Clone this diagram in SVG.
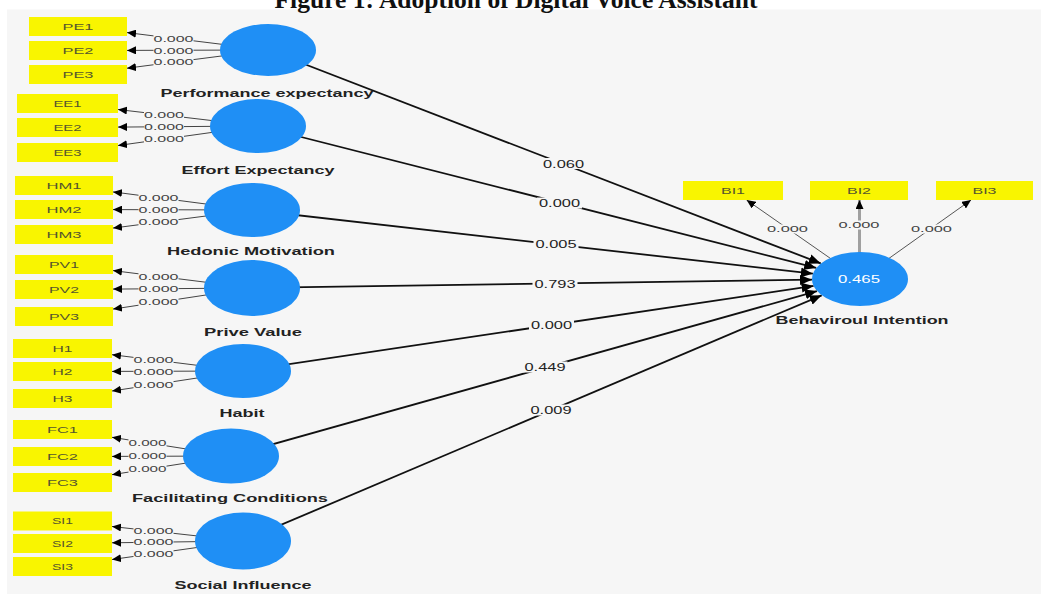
<svg xmlns="http://www.w3.org/2000/svg" width="1041" height="594" viewBox="0 0 1041 594">
<style>
.bg{fill:#f6f6f6}
.lv{fill:#1f8ff5}
.box{fill:#f9f500}
.bt{font-family:"Liberation Sans",Arial,sans-serif;font-size:9.5px;fill:#55552e;text-anchor:middle}
.cl{font-family:"Liberation Sans",Arial,sans-serif;font-size:11px;font-weight:bold;fill:#222;text-anchor:middle}
.ind{stroke:#444;stroke-width:1;fill:none;marker-end:url(#sa)}
.pth{stroke:#111;stroke-width:1.8;fill:none;marker-end:url(#la)}
.bil{stroke:#555;stroke-width:1;fill:none;marker-end:url(#sa)}
.bil2{stroke:#a0a0a0;stroke-width:3;fill:none;marker-end:url(#sa)}
.lb{fill:#f6f6f6}
.it{font-family:"Liberation Sans",Arial,sans-serif;font-size:9px;fill:#444;text-anchor:middle}
.pt{font-family:"Liberation Sans",Arial,sans-serif;font-size:10px;fill:#222;text-anchor:middle}
.r2{font-family:"Liberation Sans",Arial,sans-serif;font-size:10px;fill:#fff;text-anchor:middle}
.title{font-family:"Liberation Serif","Times New Roman",serif;font-size:25px;font-weight:bold;fill:#111;text-anchor:middle}
</style>
<defs>
<marker id="sa" markerUnits="userSpaceOnUse" markerWidth="10" markerHeight="8" refX="9" refY="4" orient="auto"><path d="M0,0 L9,4 L0,8 z" fill="#000"/></marker>
<marker id="la" markerUnits="userSpaceOnUse" markerWidth="13" markerHeight="10" refX="12" refY="5" orient="auto"><path d="M0,0 L12,5 L0,10 z" fill="#000"/></marker>
</defs>
<rect x="0" y="0" width="1041" height="594" fill="#fff"/>
<rect class="bg" x="7" y="9.5" width="1034" height="584.5"/>
<text class="title" x="516" y="8" textLength="483" lengthAdjust="spacingAndGlyphs">Figure 1: Adoption of Digital Voice Assistant</text>

<g id="connectors">
<!-- structural paths -->
<line class="pth" x1="268" y1="50" x2="820.8" y2="263.4"/>
<line class="pth" x1="258" y1="126" x2="816.2" y2="267.9"/>
<line class="pth" x1="252" y1="210" x2="812.9" y2="273.7"/>
<line class="pth" x1="252" y1="288" x2="812" y2="279.7"/>
<line class="pth" x1="243" y1="371" x2="813.6" y2="285.9"/>
<line class="pth" x1="231" y1="456" x2="817" y2="291.1"/>
<line class="pth" x1="243" y1="541" x2="821.7" y2="295.3"/>
<!-- outer loadings -->
<line class="ind" x1="268" y1="50" x2="127" y2="32.6"/>
<line class="ind" x1="268" y1="50" x2="127" y2="50.4"/>
<line class="ind" x1="268" y1="50" x2="127" y2="68.2"/>
<line class="ind" x1="258" y1="126" x2="118" y2="109.5"/>
<line class="ind" x1="258" y1="126" x2="118" y2="127.1"/>
<line class="ind" x1="258" y1="126" x2="118" y2="145.5"/>
<line class="ind" x1="252" y1="210" x2="113" y2="191.9"/>
<line class="ind" x1="252" y1="210" x2="113" y2="209.6"/>
<line class="ind" x1="252" y1="210" x2="113" y2="228.1"/>
<line class="ind" x1="252" y1="288" x2="113" y2="270.6"/>
<line class="ind" x1="252" y1="288" x2="113" y2="289.1"/>
<line class="ind" x1="252" y1="288" x2="113" y2="309.1"/>
<line class="ind" x1="243" y1="371" x2="112" y2="354.7"/>
<line class="ind" x1="243" y1="371" x2="112" y2="371.4"/>
<line class="ind" x1="243" y1="371" x2="112" y2="391"/>
<line class="ind" x1="231" y1="456" x2="112" y2="437.3"/>
<line class="ind" x1="231" y1="456" x2="112" y2="456.4"/>
<line class="ind" x1="231" y1="456" x2="112" y2="474.7"/>
<line class="ind" x1="243" y1="541" x2="112" y2="526.5"/>
<line class="ind" x1="243" y1="541" x2="112" y2="542.8"/>
<line class="ind" x1="243" y1="541" x2="112" y2="559.5"/>
<line class="bil" x1="860" y1="279" x2="746.6" y2="200"/>
<line class="bil2" x1="859.5" y1="279" x2="859.5" y2="200"/>
<line class="bil" x1="860" y1="279" x2="971" y2="200"/>

<!-- path coefficient labels -->
<rect class="lb" x="541" y="158" width="45" height="11"/><text class="pt" x="563.5" y="167.5" textLength="41" lengthAdjust="spacingAndGlyphs">0.060</text>
<rect class="lb" x="537" y="197.5" width="45" height="11"/><text class="pt" x="559.5" y="207" textLength="41" lengthAdjust="spacingAndGlyphs">0.000</text>
<rect class="lb" x="533.5" y="238.5" width="45" height="11"/><text class="pt" x="556" y="248" textLength="41" lengthAdjust="spacingAndGlyphs">0.005</text>
<rect class="lb" x="532.5" y="278.5" width="45" height="11"/><text class="pt" x="555" y="288" textLength="41" lengthAdjust="spacingAndGlyphs">0.793</text>
<rect class="lb" x="529" y="319" width="45" height="11"/><text class="pt" x="551.5" y="328.5" textLength="41" lengthAdjust="spacingAndGlyphs">0.000</text>
<rect class="lb" x="522.5" y="361.5" width="45" height="11"/><text class="pt" x="545" y="371" textLength="41" lengthAdjust="spacingAndGlyphs">0.449</text>
<rect class="lb" x="528.5" y="404.5" width="45" height="11"/><text class="pt" x="551" y="414" textLength="41" lengthAdjust="spacingAndGlyphs">0.009</text>

<!-- loading labels -->
<rect class="lb" x="153.5" y="33.8" width="40" height="9"/><text class="it" x="173.5" y="41.5" textLength="40" lengthAdjust="spacingAndGlyphs">0.000</text>
<rect class="lb" x="153.5" y="45.8" width="40" height="9"/><text class="it" x="173.5" y="53.5" textLength="40" lengthAdjust="spacingAndGlyphs">0.000</text>
<rect class="lb" x="153.5" y="57.7" width="40" height="9"/><text class="it" x="173.5" y="65.4" textLength="40" lengthAdjust="spacingAndGlyphs">0.000</text>

<rect class="lb" x="144" y="110.4" width="40" height="9"/><text class="it" x="164" y="118.1" textLength="40" lengthAdjust="spacingAndGlyphs">0.000</text>
<rect class="lb" x="144" y="122.2" width="40" height="9"/><text class="it" x="164" y="129.9" textLength="40" lengthAdjust="spacingAndGlyphs">0.000</text>
<rect class="lb" x="144" y="134.6" width="40" height="9"/><text class="it" x="164" y="142.3" textLength="40" lengthAdjust="spacingAndGlyphs">0.000</text>

<rect class="lb" x="138.5" y="193.3" width="40" height="9"/><text class="it" x="158.5" y="201" textLength="40" lengthAdjust="spacingAndGlyphs">0.000</text>
<rect class="lb" x="138.5" y="205.2" width="40" height="9"/><text class="it" x="158.5" y="212.9" textLength="40" lengthAdjust="spacingAndGlyphs">0.000</text>
<rect class="lb" x="138.5" y="217.7" width="40" height="9"/><text class="it" x="158.5" y="225.4" textLength="40" lengthAdjust="spacingAndGlyphs">0.000</text>

<rect class="lb" x="138.5" y="271.8" width="40" height="9"/><text class="it" x="158.5" y="279.5" textLength="40" lengthAdjust="spacingAndGlyphs">0.000</text>
<rect class="lb" x="138.5" y="284.2" width="40" height="9"/><text class="it" x="158.5" y="291.9" textLength="40" lengthAdjust="spacingAndGlyphs">0.000</text>
<rect class="lb" x="138.5" y="297.7" width="40" height="9"/><text class="it" x="158.5" y="305.4" textLength="40" lengthAdjust="spacingAndGlyphs">0.000</text>

<rect class="lb" x="133.5" y="355.4" width="40" height="9"/><text class="it" x="153.5" y="363.1" textLength="40" lengthAdjust="spacingAndGlyphs">0.000</text>
<rect class="lb" x="133.5" y="366.8" width="40" height="9"/><text class="it" x="153.5" y="374.5" textLength="40" lengthAdjust="spacingAndGlyphs">0.000</text>
<rect class="lb" x="133.5" y="380.2" width="40" height="9"/><text class="it" x="153.5" y="387.9" textLength="40" lengthAdjust="spacingAndGlyphs">0.000</text>

<rect class="lb" x="128.5" y="438.4" width="38" height="9"/><text class="it" x="147.5" y="446.1" textLength="38" lengthAdjust="spacingAndGlyphs">0.000</text>
<rect class="lb" x="128.5" y="451.7" width="38" height="9"/><text class="it" x="147.5" y="459.4" textLength="38" lengthAdjust="spacingAndGlyphs">0.000</text>
<rect class="lb" x="128.5" y="464.6" width="38" height="9"/><text class="it" x="147.5" y="472.3" textLength="38" lengthAdjust="spacingAndGlyphs">0.000</text>

<rect class="lb" x="133.5" y="526.6" width="40" height="9"/><text class="it" x="153.5" y="534.3" textLength="40" lengthAdjust="spacingAndGlyphs">0.000</text>
<rect class="lb" x="133.5" y="537.7" width="40" height="9"/><text class="it" x="153.5" y="545.4" textLength="40" lengthAdjust="spacingAndGlyphs">0.000</text>
<rect class="lb" x="133.5" y="549.1" width="40" height="9"/><text class="it" x="153.5" y="556.8" textLength="40" lengthAdjust="spacingAndGlyphs">0.000</text>

<rect class="lb" x="767" y="224.5" width="41" height="9"/><text class="it" x="787.5" y="232.2" textLength="41" lengthAdjust="spacingAndGlyphs">0.000</text>
<rect class="lb" x="838.5" y="220.5" width="41" height="9"/><text class="it" x="859" y="228.2" textLength="41" lengthAdjust="spacingAndGlyphs">0.000</text>
<rect class="lb" x="911" y="224.5" width="41" height="9"/><text class="it" x="931.5" y="232.2" textLength="41" lengthAdjust="spacingAndGlyphs">0.000</text>
</g>

<!-- latent variables -->
<g id="PE"><ellipse class="lv" cx="268" cy="50" rx="48" ry="26"/><text class="cl" x="267" y="97" textLength="213" lengthAdjust="spacingAndGlyphs">Performance expectancy</text></g>
<g id="EE"><ellipse class="lv" cx="258" cy="126" rx="48" ry="27"/><text class="cl" x="258" y="174" textLength="153" lengthAdjust="spacingAndGlyphs">Effort Expectancy</text></g>
<g id="HM"><ellipse class="lv" cx="252" cy="210" rx="48" ry="27"/><text class="cl" x="251" y="255" textLength="168" lengthAdjust="spacingAndGlyphs">Hedonic Motivation</text></g>
<g id="PV"><ellipse class="lv" cx="252" cy="288" rx="48" ry="28"/><text class="cl" x="253" y="336" textLength="98" lengthAdjust="spacingAndGlyphs">Prive Value</text></g>
<g id="H"><ellipse class="lv" cx="243" cy="371" rx="48" ry="27"/><text class="cl" x="242" y="417" textLength="45" lengthAdjust="spacingAndGlyphs">Habit</text></g>
<g id="FC"><ellipse class="lv" cx="231" cy="456" rx="48" ry="27.5"/><text class="cl" x="230" y="502" textLength="196" lengthAdjust="spacingAndGlyphs">Facilitating Conditions</text></g>
<g id="SI"><ellipse class="lv" cx="243" cy="541" rx="48" ry="28.5"/><text class="cl" x="243" y="589" textLength="137" lengthAdjust="spacingAndGlyphs">Social Influence</text></g>
<g id="BI"><ellipse class="lv" cx="860" cy="279" rx="48" ry="27"/><text class="r2" x="859" y="282.5" textLength="42" lengthAdjust="spacingAndGlyphs">0.465</text><text class="cl" x="862" y="324" textLength="173" lengthAdjust="spacingAndGlyphs">Behaviroul Intention</text></g>

<!-- indicators -->
<g id="PE1"><rect class="box" x="29" y="17" width="98" height="19"/><text class="bt" x="78" y="29.8" textLength="31" lengthAdjust="spacingAndGlyphs">PE1</text></g>
<g id="PE2"><rect class="box" x="29" y="41" width="98" height="19"/><text class="bt" x="78" y="53.8" textLength="31" lengthAdjust="spacingAndGlyphs">PE2</text></g>
<g id="PE3"><rect class="box" x="29" y="65" width="98" height="19"/><text class="bt" x="78" y="77.8" textLength="31" lengthAdjust="spacingAndGlyphs">PE3</text></g>
<g id="EE1"><rect class="box" x="17" y="94" width="101" height="19"/><text class="bt" x="67.5" y="106.8" textLength="28" lengthAdjust="spacingAndGlyphs">EE1</text></g>
<g id="EE2"><rect class="box" x="17" y="118" width="101" height="19"/><text class="bt" x="67.5" y="130.8" textLength="28" lengthAdjust="spacingAndGlyphs">EE2</text></g>
<g id="EE3"><rect class="box" x="17" y="143" width="101" height="19"/><text class="bt" x="67.5" y="155.8" textLength="28" lengthAdjust="spacingAndGlyphs">EE3</text></g>
<g id="HM1"><rect class="box" x="15" y="176" width="98" height="19"/><text class="bt" x="64" y="188.8" textLength="35" lengthAdjust="spacingAndGlyphs">HM1</text></g>
<g id="HM2"><rect class="box" x="15" y="200" width="98" height="19"/><text class="bt" x="64" y="212.8" textLength="35" lengthAdjust="spacingAndGlyphs">HM2</text></g>
<g id="HM3"><rect class="box" x="15" y="225" width="98" height="19"/><text class="bt" x="64" y="237.8" textLength="35" lengthAdjust="spacingAndGlyphs">HM3</text></g>
<g id="PV1"><rect class="box" x="15" y="255" width="98" height="19"/><text class="bt" x="64" y="267.8" textLength="30" lengthAdjust="spacingAndGlyphs">PV1</text></g>
<g id="PV2"><rect class="box" x="15" y="280" width="98" height="19"/><text class="bt" x="64" y="292.8" textLength="30" lengthAdjust="spacingAndGlyphs">PV2</text></g>
<g id="PV3"><rect class="box" x="15" y="307" width="98" height="19"/><text class="bt" x="64" y="319.8" textLength="30" lengthAdjust="spacingAndGlyphs">PV3</text></g>
<g id="H1"><rect class="box" x="13" y="339" width="99" height="19"/><text class="bt" x="62.5" y="351.8" textLength="20" lengthAdjust="spacingAndGlyphs">H1</text></g>
<g id="H2"><rect class="box" x="13" y="362" width="99" height="19"/><text class="bt" x="62.5" y="374.8" textLength="20" lengthAdjust="spacingAndGlyphs">H2</text></g>
<g id="H3"><rect class="box" x="13" y="389" width="99" height="19"/><text class="bt" x="62.5" y="401.8" textLength="20" lengthAdjust="spacingAndGlyphs">H3</text></g>
<g id="FC1"><rect class="box" x="13" y="420" width="99" height="19"/><text class="bt" x="62.5" y="432.8" textLength="31" lengthAdjust="spacingAndGlyphs">FC1</text></g>
<g id="FC2"><rect class="box" x="13" y="447" width="99" height="19"/><text class="bt" x="62.5" y="459.8" textLength="31" lengthAdjust="spacingAndGlyphs">FC2</text></g>
<g id="FC3"><rect class="box" x="13" y="473" width="99" height="19"/><text class="bt" x="62.5" y="485.8" textLength="31" lengthAdjust="spacingAndGlyphs">FC3</text></g>
<g id="SI1"><rect class="box" x="13" y="511.5" width="99" height="19"/><text class="bt" x="62.5" y="524.3" textLength="21" lengthAdjust="spacingAndGlyphs">SI1</text></g>
<g id="SI2"><rect class="box" x="13" y="534" width="99" height="19"/><text class="bt" x="62.5" y="546.8" textLength="21" lengthAdjust="spacingAndGlyphs">SI2</text></g>
<g id="SI3"><rect class="box" x="13" y="557" width="99" height="19"/><text class="bt" x="62.5" y="569.8" textLength="21" lengthAdjust="spacingAndGlyphs">SI3</text></g>
<g id="BI1"><rect class="box" x="683" y="181" width="100" height="19"/><text class="bt" x="733" y="193.8" textLength="24" lengthAdjust="spacingAndGlyphs">BI1</text></g>
<g id="BI2"><rect class="box" x="810" y="181" width="98" height="19"/><text class="bt" x="859" y="193.8" textLength="24" lengthAdjust="spacingAndGlyphs">BI2</text></g>
<g id="BI3"><rect class="box" x="936" y="181" width="97" height="19"/><text class="bt" x="984.5" y="193.8" textLength="24" lengthAdjust="spacingAndGlyphs">BI3</text></g>
</svg>
